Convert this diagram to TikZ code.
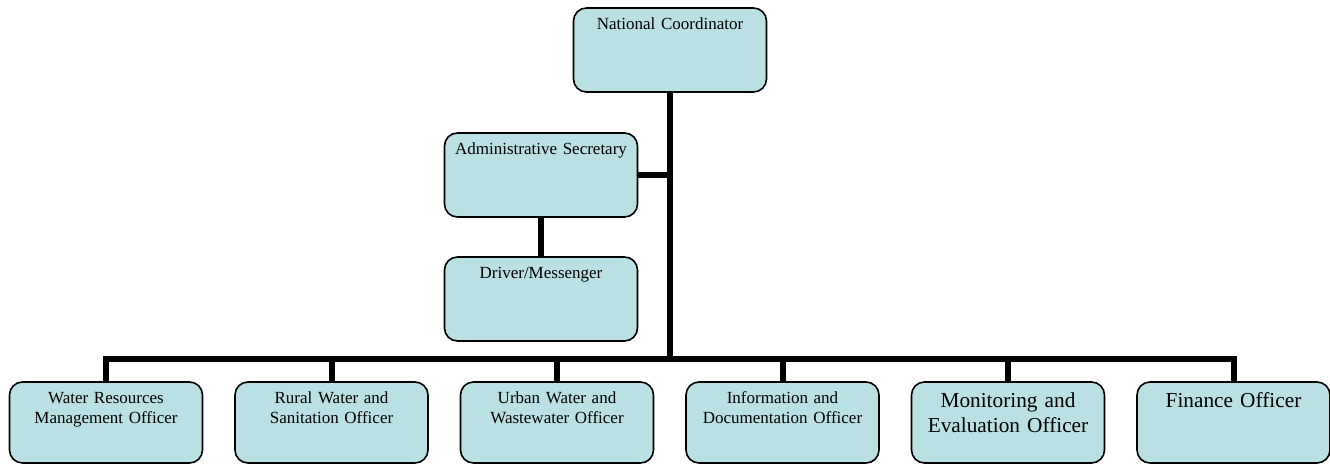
\documentclass[tikz,border=0pt]{standalone}
\usepackage{fontspec}
\setmainfont{Liberation Serif}
\usetikzlibrary{positioning}

\definecolor{boxblue}{RGB}{185,224,227}

\begin{document}
\begin{tikzpicture}[
x=1pt, y=-1pt,
orgbox/.style={rectangle, rounded corners=13pt, draw=black, line width=1.6pt, fill=boxblue, inner sep=0pt, outer sep=0pt, text width=193pt, align=center, anchor=north, font=\fontsize{17}{20}\selectfont, text height=21pt, text depth=63pt},
lowbox/.style={orgbox, text depth=60pt},
biglowbox/.style={lowbox, font=\fontsize{21.3}{25}\selectfont, text height=25pt, text depth=56pt},
link/.style={line width=6pt},
]
\useasboundingbox (0,0) rectangle (1330,464);

\node[orgbox]      (coord)      at (670,8)       {National Coordinator};
\node[orgbox]      (admin)      at (541,133)     {Administrative Secretary};
\node[orgbox]      (driver)     [below=40pt of admin] {Driver/Messenger};

\node[lowbox]      (water)      at (106,382)     {Water Resources\\Management Officer};
\node[lowbox]      (rural)      [right=32.5pt of water]  {Rural Water and\\Sanitation Officer};
\node[lowbox]      (urban)      [right=32.5pt of rural]  {Urban Water and\\Wastewater Officer};
\node[lowbox]      (info)       [right=32.5pt of urban]  {Information and\\Documentation Officer};
\node[biglowbox]   (monitor)    [right=32.5pt of info]   {Monitoring and\\Evaluation Officer};
\node[biglowbox]   (finance)    [right=32.5pt of monitor] {Finance Officer};

\coordinate (bus) at (670,359);
%Lines
\draw[link] (coord.south) -- (bus);
\draw[link] (admin.east) -- (admin.east -| coord.south);
\draw[link] (admin.south) -- (driver.north);
\draw[link] (water.north) |- (bus) -| (finance.north);
\foreach \n in {rural, urban, info, monitor}
  \draw[link] (\n.north) -- (\n.north |- bus);
\end{tikzpicture}
\end{document}
